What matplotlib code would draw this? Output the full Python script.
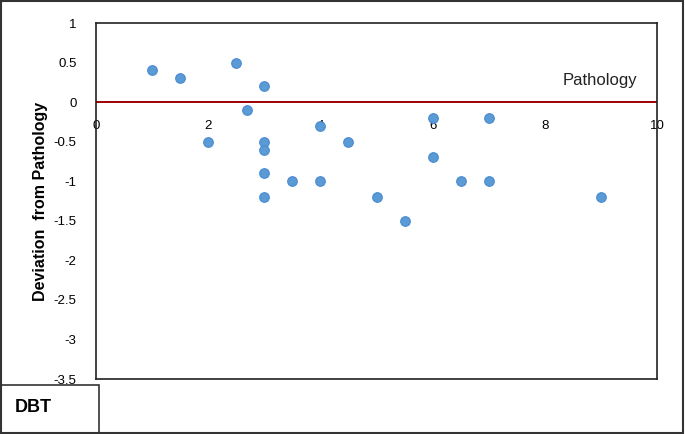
import numpy as np
from matplotlib import pyplot as plt
from matplotlib.patches import Rectangle

plt.rcParams['font.family'] = ['Liberation Sans', 'DejaVu Sans']

x_vals = [1, 1.5, 2.5, 3, 2.7, 2, 3, 3, 3, 3.5, 4, 3, 4, 4.5, 5, 5.5, 6, 6, 6.5, 7, 7, 9]
y_vals = [0.4, 0.3, 0.5, 0.2, -0.1, -0.5, -0.5, -0.6, -0.9, -1, -1, -1.2, -0.3, -0.5, -1.2, -1.5, -0.2, -0.7, -1, -0.2, -1, -1.2]
x_ticks = [0, 2, 4, 6, 8, 10]
y_ticks = [1, 0.5, 0, -0.5, -1, -1.5, -2, -2.5, -3, -3.5]

fig = plt.figure(figsize=(6.85, 4.34), dpi=100)
ax = fig.add_axes([96 / 685, 1 - 379 / 434, (657 - 96) / 685, (379 - 23) / 434])

ax.set_xlim(0, 10)
ax.set_ylim(-3.5, 1)

# red reference line at zero
ax.axhline(0, color='#a00000', lw=1.4, zorder=1)
ax.scatter(x_vals, y_vals, s=48, color='#5b9bd5', edgecolor='#4a8ad0', linewidth=0.8, zorder=3)

ax.set_yticks(y_ticks)
ax.set_yticklabels([('%g' % v) for v in y_ticks])
ax.tick_params(axis='y', length=0, pad=14, labelsize=9.5)
ax.set_xticks([])
for s in ax.spines.values():
    s.set_linewidth(1.2)
    s.set_color('#222222')

# x labels sit just under the zero line, like an axis crossing at 0
sec = ax.secondary_xaxis(3.5 / 4.5)
sec.set_xticks(x_ticks)
sec.xaxis.set_ticks_position('bottom')
sec.tick_params(length=0, pad=13, labelsize=9.5, labelbottom=True, labeltop=False)
for s in sec.spines.values():
    s.set_visible(False)

ax.set_ylabel('Deviation  from Pathology', fontsize=11.5, fontweight='bold', labelpad=4)
ax.text(9.65, 0.27, 'Pathology', fontsize=12, ha='right', va='center', color='#222222')

# outer frame and the DBT box
fig.add_artist(Rectangle((0.001, 0.002), 0.996, 0.995, transform=fig.transFigure,
                         fill=False, lw=1.5, edgecolor='#333333'))
fig.add_artist(Rectangle((0.001, 0.002), 98 / 685, 48 / 434, transform=fig.transFigure,
                         fill=False, lw=1.2, edgecolor='#333333'))
fig.text(15 / 685, 1 - 407 / 434, 'DBT', fontsize=13, fontweight='bold', va='center')

plt.savefig('out.png')
